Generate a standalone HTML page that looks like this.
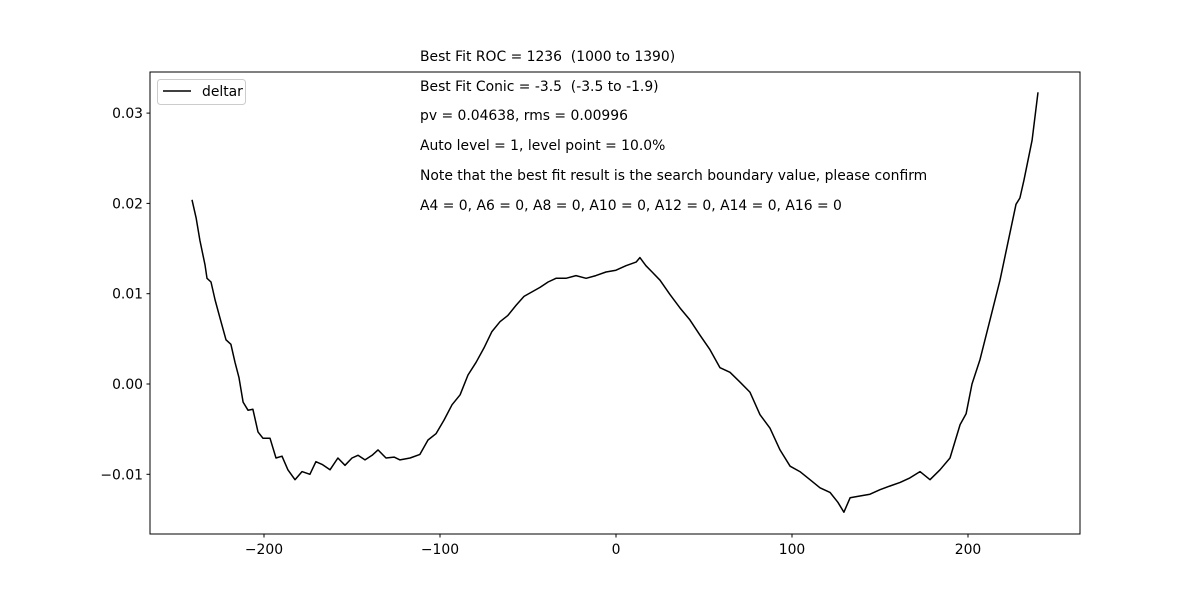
<!DOCTYPE html>
<html><head><meta charset="utf-8"><style>
body{margin:0;background:#fff}
svg{display:block;font-family:"DejaVu Sans","Liberation Sans",sans-serif}
text{white-space:pre}
</style></head><body>
<svg id="chart" width="1200" height="600" xmlns="http://www.w3.org/2000/svg">
<rect width="1200" height="600" fill="#fff"/>
<g id="annot" font-size="13.9" fill="#000">
<text x="420" y="61">Best Fit ROC = 1236  (1000 to 1390)</text>
<text x="420" y="91">Best Fit Conic = -3.5  (-3.5 to -1.9)</text>
<text x="420" y="120">pv = 0.04638, rms = 0.00996</text>
<text x="420" y="150">Auto level = 1, level point = 10.0%</text>
<text x="420" y="180">Note that the best fit result is the search boundary value, please confirm</text>
<text x="420" y="210">A4 = 0, A6 = 0, A8 = 0, A10 = 0, A12 = 0, A14 = 0, A16 = 0</text>
</g>
<g id="plot"></g>
<rect x="150" y="72" width="930" height="462" fill="none" stroke="#000" stroke-width="1"/>
<g>
<rect x="157.5" y="79.5" width="88" height="25" rx="3" fill="#fff" stroke="#ccc"/>
<line x1="163" y1="91" x2="191" y2="91" stroke="#000" stroke-width="1.5"/>
<text x="202" y="96" font-size="13.9">deltar</text>
</g>
</svg>
<script>
const xs = [-240.9,-238.6,-236.4,-233.5,-232.4,-230.1,-227.8,-225,-221.6,-218.8,
-216.5,-214.2,-211.9,-209.1,-206.3,-203.4,-200.6,-196.6,-193.2,-189.8,
-186.4,-182.4,-178.4,-173.9,-170.5,-167,-162.5,-158,-154,-150,
-146.6,-142.6,-138.6,-135.2,-130.7,-126.1,-122.7,-117,-111.4,-106.8,
-102.3,-97.7,-93.2,-88.6,-84.1,-79.5,-75,-70.5,-65.9,-61.4,
-56.8,-52.3,-47.7,-43.2,-38.6,-34.1,-28.4,-22.7,-17,-11.4,
-5.7,0,5.7,11.4,13.6,17,20.5,25,30.7,36.4,
42,47.7,53.4,59.1,64.8,70.5,76.1,81.8,87.5,93.2,
98.9,104.5,110.2,115.9,121.6,126.1,129.5,133,138.6,144.3,
150,155.7,161.4,167,172.7,178.4,184.1,189.8,195.5,198.9,
202.3,206.8,212.5,218.2,222.7,227.3,229.5,231.8,236.4,239.8];
const ys = [0.0204,0.0184,0.0159,0.0132,0.0117,0.0113,0.0093,0.0073,0.0049,0.0044,
0.0024,0.0007,-0.002,-0.0029,-0.0028,-0.0053,-0.006,-0.006,-0.0082,-0.008,
-0.0095,-0.0106,-0.0097,-0.01,-0.0086,-0.0089,-0.0095,-0.0082,-0.009,-0.0082,
-0.0079,-0.0084,-0.0079,-0.0073,-0.0082,-0.0081,-0.0084,-0.0082,-0.0078,-0.0062,
-0.0055,-0.004,-0.0023,-0.0012,0.001,0.0024,0.004,0.0058,0.0069,0.0076,
0.0087,0.0097,0.0102,0.0107,0.0113,0.0117,0.0117,0.012,0.0117,0.012,
0.0124,0.0126,0.0131,0.0135,0.014,0.0131,0.0124,0.0115,0.0099,0.0084,
0.0071,0.0054,0.0038,0.0018,0.0013,0.0002,-0.0009,-0.0034,-0.0049,-0.0073,
-0.0091,-0.0097,-0.0106,-0.0115,-0.012,-0.0131,-0.0142,-0.0126,-0.0124,-0.0122,
-0.0117,-0.0113,-0.0109,-0.0104,-0.0097,-0.0106,-0.0095,-0.0082,-0.0045,-0.0033,
0,0.0027,0.0071,0.0115,0.0157,0.0199,0.0206,0.0226,0.027,0.0323];
const xTicks = [-200,-100,0,100,200];
const xTickLabels = ["\u2212200","\u2212100","0","100","200"];
const yTicks = [-0.01,0,0.01,0.02,0.03];
const yTickLabels = ["\u22120.01","0.00","0.01","0.02","0.03"];

const NS = "http://www.w3.org/2000/svg";
const sx = v => 616 + v * 1.76;
const sy = v => 384 - v * 9030;
const g = document.getElementById('plot');
function mk(tag, attrs){const e=document.createElementNS(NS,tag);for(const k in attrs)e.setAttribute(k,attrs[k]);return e;}

xTicks.forEach((t,i)=>{
  const l = mk('line',{x1:sx(t),x2:sx(t),y1:534,y2:537.5,stroke:'#000'});
  
  
  g.appendChild(l);
  const tx = mk('text',{x:sx(t),y:554,'font-size':13.9,'text-anchor':'middle'});
  
  
  tx.textContent = xTickLabels[i];
  g.appendChild(tx);
});
yTicks.forEach((t,i)=>{
  const l = mk('line',{x1:146.5,x2:150,y1:sy(t),y2:sy(t),stroke:'#000'});
  
  
  g.appendChild(l);
  const tx = mk('text',{x:143,y:sy(t)+5,'font-size':13.9,'text-anchor':'end'});
  
  
  tx.textContent = yTickLabels[i];
  g.appendChild(tx);
});
const d = xs.map((x,i)=>(i?'L':'M')+sx(x).toFixed(1)+','+sy(ys[i]).toFixed(1)).join(' ');
const p = mk('path',{d:d,fill:'none',stroke:'#000','stroke-width':1.5,'stroke-linejoin':'round'});


g.appendChild(p);
</script>
</body></html>
